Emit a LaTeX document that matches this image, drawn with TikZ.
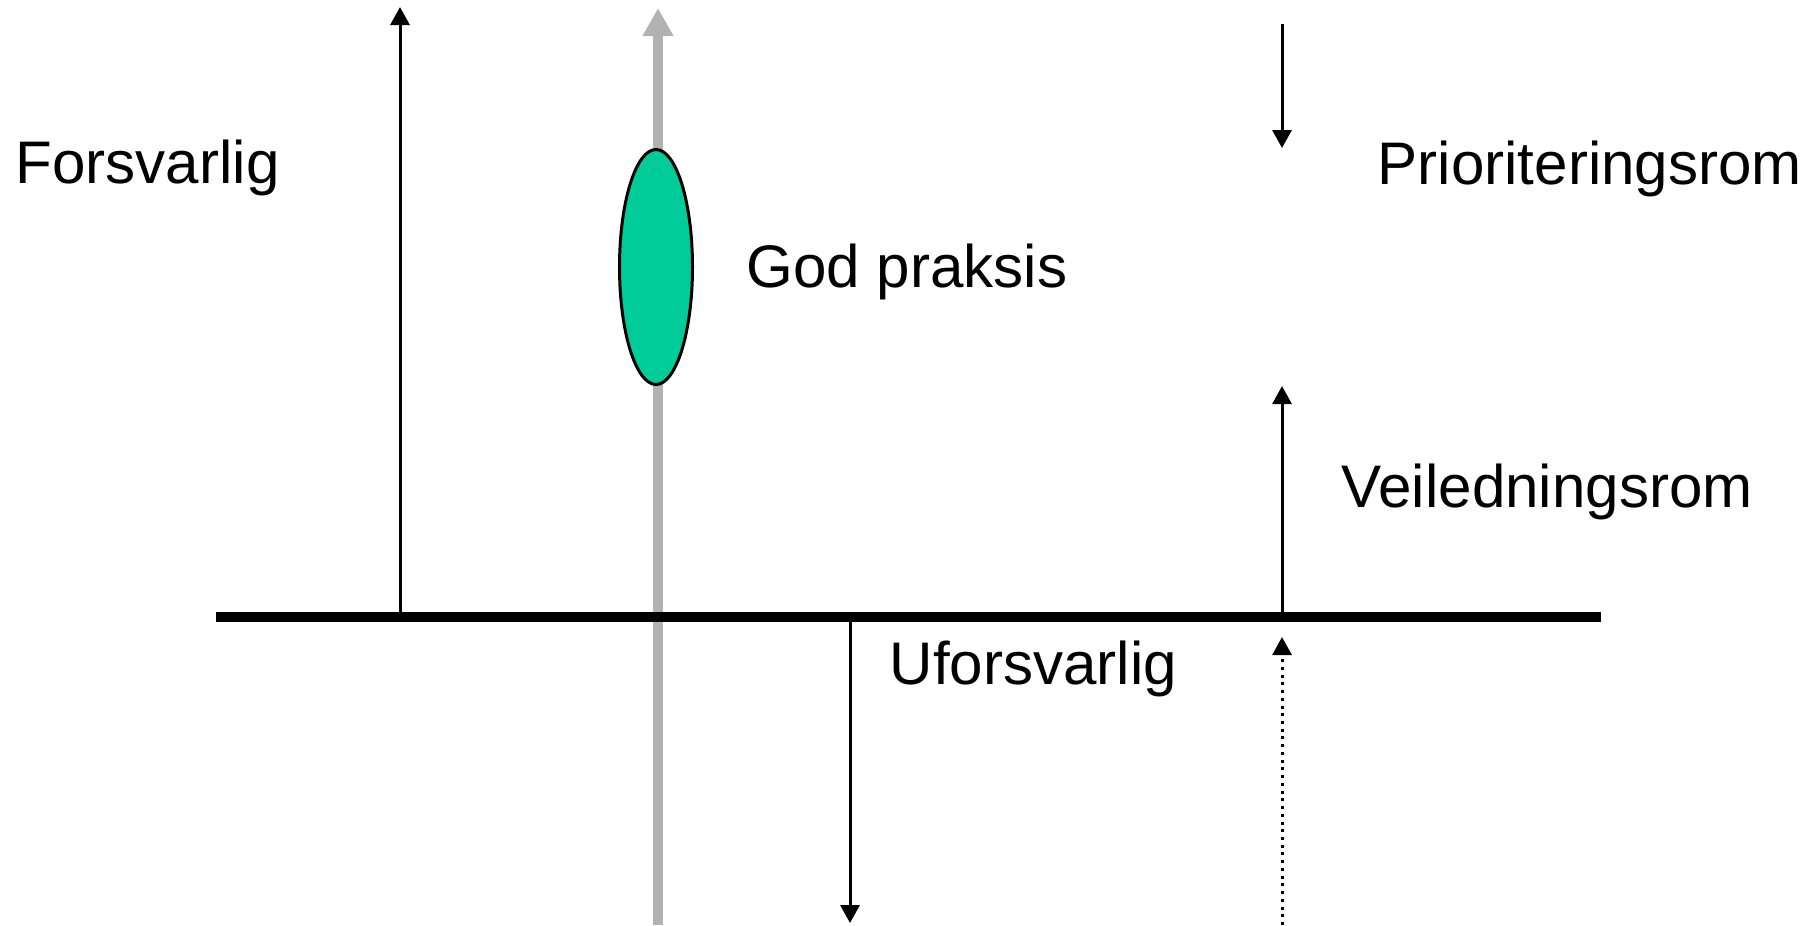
\documentclass[tikz,border=0pt]{standalone}
\usepackage{fontspec}
\setmainfont{Liberation Sans}
\usetikzlibrary{arrows.meta,shapes.geometric}
\definecolor{gpcol}{RGB}{0,204,153}
\definecolor{axcol}{RGB}{178,178,178}
\tikzset{
  lbl/.style={anchor=base west, inner sep=0pt, font=\fontsize{17.1}{20}\selectfont},
  thinarr/.style={-{Triangle[length=1.8mm, width=1.9mm]}, line width=0.85pt},
  grayarr/.style={-{Triangle[length=2.8mm, width=2.9mm]}, line width=2.8pt, color=axcol},
  dotarr/.style={thinarr, dash pattern=on 0.85pt off 1.35pt},
  gp/.style={ellipse, draw, line width=0.85pt, fill=gpcol, minimum width=7.3mm, minimum height=23.5mm, inner sep=0pt},
}
\begin{document}
\begin{tikzpicture}[x=0.1mm,y=-0.1mm]
  \useasboundingbox (0,0) rectangle (1809,925);
  % ends of the axes
  \coordinate (gbot) at (658,925);  \coordinate (gtop) at (658,8);
  \coordinate (bl) at (216,617);    \coordinate (br) at (1601,617);
  \coordinate (ftop) at (400,7);    \coordinate (fbot) at (400,617);
  \coordinate (ubot) at (850,923);  \coordinate (utop) at (850,617);
  \coordinate (ptop) at (1282,24);  \coordinate (pbot) at (1282,148);
  \coordinate (vbot) at (1282,617); \coordinate (vtop) at (1282,386);
  \coordinate (dbot) at (1282,925); \coordinate (dtop) at (1282,637);
  \draw[grayarr] (gbot) -- (gtop);
  \node[gp] (praksis) at (656,267) {};
  \draw[line width=2.7pt] (bl) -- (br);
  \draw[thinarr] (fbot) -- (ftop);
  \draw[thinarr] (utop) -- (ubot);
  \draw[thinarr] (ptop) -- (pbot);
  \draw[thinarr] (vbot) -- (vtop);
  \draw[dotarr] (dbot) -- (dtop);
  \node[lbl] (forsv) at (15,183) {Forsvarlig};
  \node[lbl] (prio) at (1377,184) {Prioriteringsrom};
  \node[lbl] (godp) at (746,287) {God praksis};
  \node[lbl] (veil) at (1341,507) {Veiledningsrom};
  \node[lbl] (ufor) at (889,684) {Uforsvarlig};
\end{tikzpicture}
\end{document}
